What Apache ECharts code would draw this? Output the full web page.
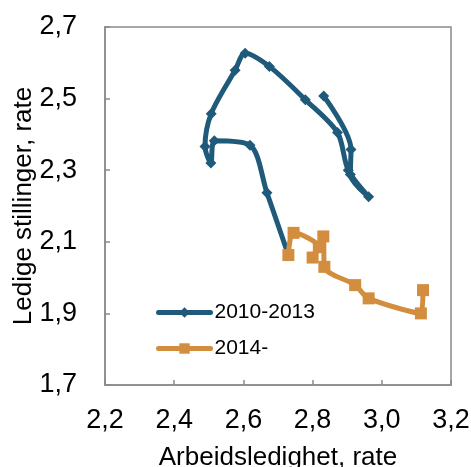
<!DOCTYPE html>
<html>
<head>
<meta charset="utf-8">
<script src="https://cdn.jsdelivr.net/npm/echarts@6/dist/echarts.min.js"></script>
<style>
  html, body { margin: 0; padding: 0; background: #fff; }
  #main { width: 471px; height: 467px; }
</style>
</head>
<body>
<div id="main"></div>
<script>
// 2010-2013
var blueX = [2.832, 2.911, 2.909, 2.962, 2.903, 2.872, 2.779, 2.675, 2.605, 2.576, 2.507, 2.489, 2.506, 2.516, 2.619, 2.668, 2.730]
var blueY = [2.507, 2.358, 2.288, 2.226, 2.300, 2.405, 2.497, 2.590, 2.627, 2.579, 2.458, 2.366, 2.320, 2.382, 2.370, 2.237, 2.063]
// 2014-
var orangeX = [2.730, 2.745, 2.818, 2.800, 2.831, 2.834, 2.923, 2.962, 3.113, 3.119]
var orangeY = [2.063, 2.125, 2.085, 2.056, 2.115, 2.030, 1.979, 1.942, 1.900, 1.965]
var seriesNames = ['2010-2013', '2014-']
var xTicks = [2.2, 2.4, 2.6, 2.8, 3.0, 3.2]
var yTicks = [1.7, 1.9, 2.1, 2.3, 2.5, 2.7]

var font = 'Arial, "Liberation Sans", sans-serif'
var fmt = function (v) { return v.toFixed(1).replace('.', ',') }

function pairs (xs, ys) {
  return xs.map(function (x, i) { return [x, ys[i]] })
}

var chart = echarts.init(document.getElementById('main'))
chart.setOption({
  animation: false,
  grid: {
    left: 105, right: 20, top: 27, bottom: 82,
    outerBoundsMode: 'none',
    containLabel: false,
    show: true, borderColor: '#8a8a8a', borderWidth: 1.5
  },
  legend: {
    orient: 'vertical',
    left: 151, top: 297,
    itemWidth: 52, itemHeight: 13, itemGap: 15,
    lineStyle: { width: 5, cap: 'round' },
    textStyle: { fontFamily: font, fontSize: 21, color: '#000', padding: [0, 0, 0, -1] },
    data: seriesNames
  },
  xAxis: {
    type: 'value',
    min: xTicks[0], max: xTicks[xTicks.length - 1], interval: 0.2,
    name: 'Arbeidsledighet, rate',
    nameLocation: 'middle', nameGap: 60, nameMoveOverlap: false,
    nameTextStyle: { fontFamily: font, fontSize: 26, color: '#000' },
    axisLine: { lineStyle: { color: '#8a8a8a', width: 1.5 } },
    axisTick: { inside: true, length: 5, lineStyle: { color: '#8a8a8a', width: 1.5 } },
    axisLabel: { margin: 22, fontFamily: font, fontSize: 27, color: '#000', formatter: fmt },
    splitLine: { show: false }
  },
  yAxis: {
    type: 'value',
    min: yTicks[0], max: yTicks[yTicks.length - 1], interval: 0.2,
    name: 'Ledige stillinger, rate',
    nameLocation: 'middle', nameGap: 68, nameMoveOverlap: false,
    nameTextStyle: { fontFamily: font, fontSize: 26, color: '#000' },
    axisLine: { show: true, lineStyle: { color: '#8a8a8a', width: 1.5 } },
    axisTick: { show: true, inside: true, length: 5, lineStyle: { color: '#8a8a8a', width: 1.5 } },
    axisLabel: { margin: 28, fontFamily: font, fontSize: 27, color: '#000', formatter: fmt },
    splitLine: { show: false }
  },
  series: [
    {
      name: seriesNames[0],
      type: 'line',
      smooth: 0.3,
      data: pairs(blueX, blueY),
      symbol: 'diamond',
      symbolSize: 11,
      color: '#1f5a7b',
      lineStyle: { width: 5, cap: 'round', join: 'round' }
    },
    {
      name: seriesNames[1],
      type: 'line',
      smooth: 0.3,
      data: pairs(orangeX, orangeY),
      symbol: 'rect',
      symbolSize: 12,
      color: '#d38d3e',
      lineStyle: { width: 5, cap: 'round', join: 'round' }
    }
  ]
})
</script>
</body>
</html>
